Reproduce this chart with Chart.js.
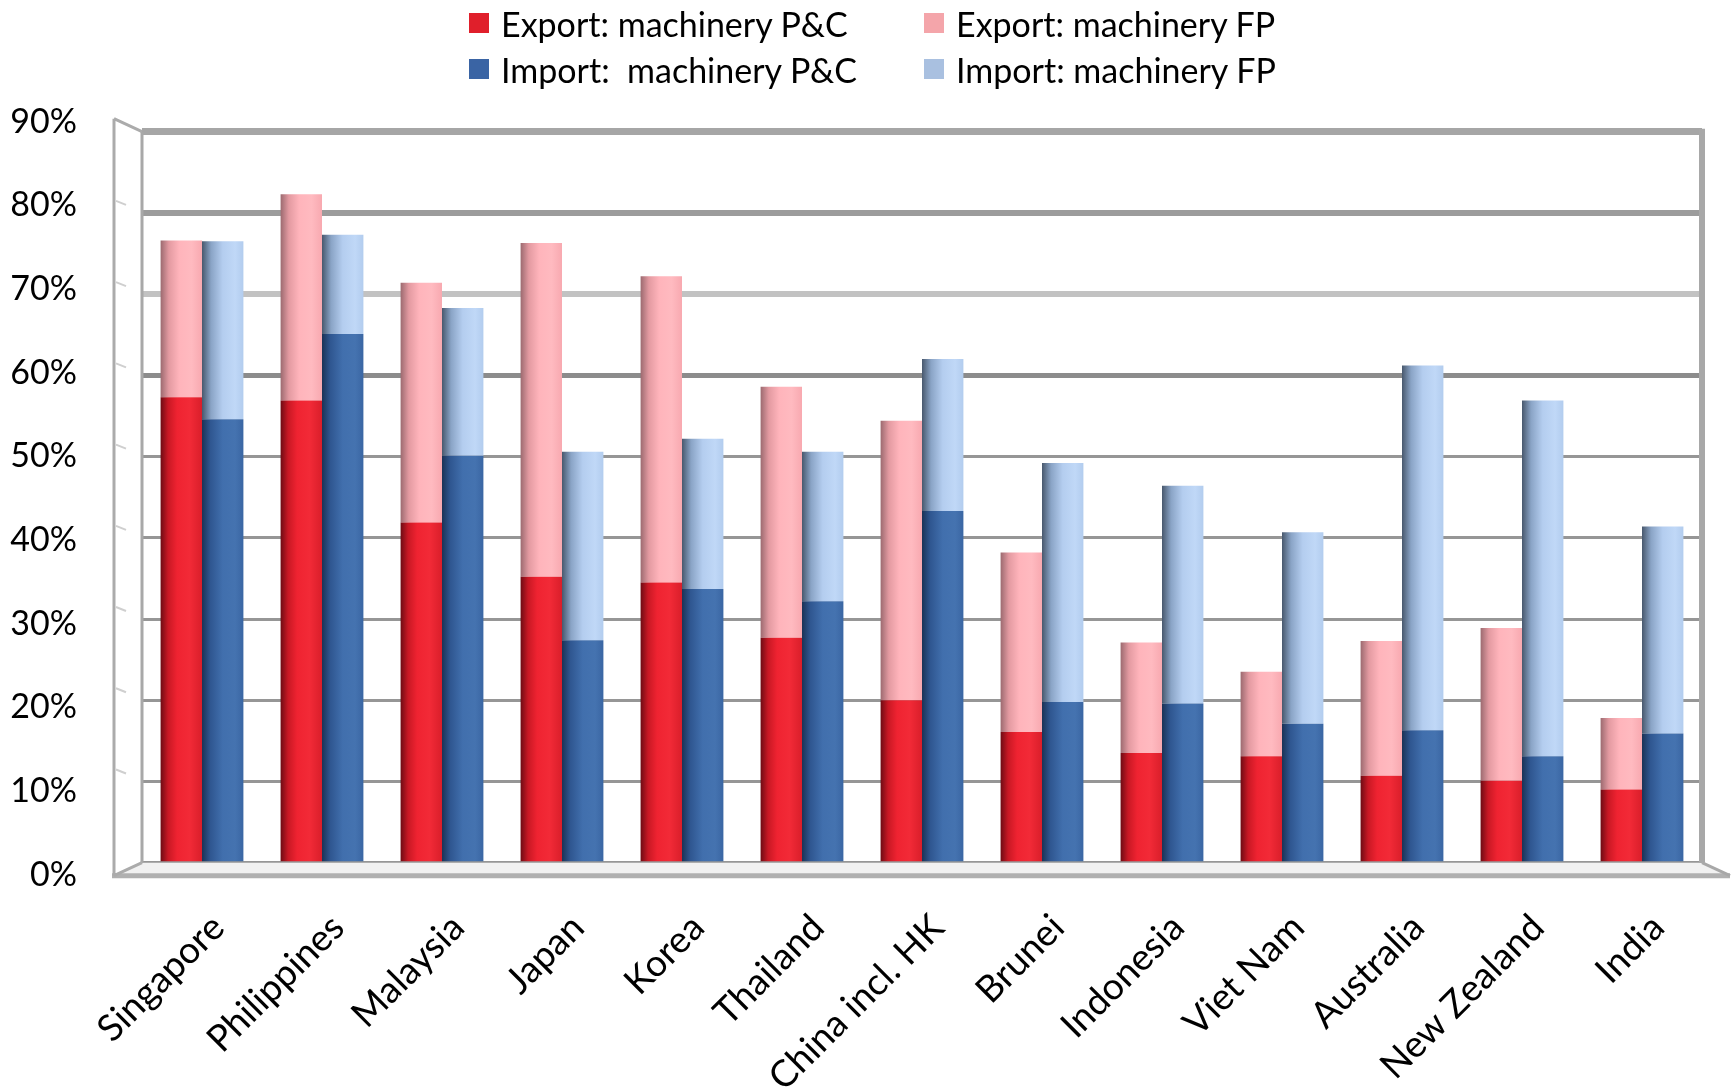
<!DOCTYPE html>
<html>
<head>
<meta charset="utf-8">
<title>Machinery trade shares</title>
<script src="https://cdn.jsdelivr.net/npm/chart.js@4.4.1/dist/chart.umd.min.js"></script>
<style>
  html, body { margin: 0; padding: 0; background: #fff; }
  #wrap { position: relative; width: 1732px; height: 1088px; overflow: hidden; }
  #chart-canvas { position: absolute; left: 0; top: 0; }
  .lg-item { position: absolute; height: 40px; display: flex; align-items: center;
             font-family: Lato, "Open Sans", sans-serif; font-size: 34px; color: #000; white-space: pre; }
  .lg-box { width: 20px; height: 20px; margin-right: 12px; flex: none; }
</style>
</head>
<body>
<div id="wrap">
  <canvas id="chart-canvas" width="1732" height="1088"></canvas>
  <div id="legend"></div>
</div>
<script>
const countries = ['Singapore', 'Philippines', 'Malaysia', 'Japan', 'Korea', 'Thailand', 'China incl. HK',
                   'Brunei', 'Indonesia', 'Viet Nam', 'Australia', 'New Zealand', 'India'];

// shares in %, parts & components (P&C) and final products (FP)
const exportPC = [57.3, 56.9, 41.9, 35.2, 34.5, 27.7, 20.0, 16.1, 13.5, 13.1, 10.7, 10.1, 9.0];
const exportFP = [19.3, 25.4, 29.5, 41.1, 37.7, 30.9, 34.4, 22.1, 13.6, 10.4, 16.6, 18.8, 8.8];
const importPC = [54.6, 65.1, 50.1, 27.4, 33.7, 32.2, 43.3, 19.8, 19.6, 17.1, 16.3, 13.1, 15.9];
const importFP = [21.9, 12.2, 18.2, 23.2, 18.5, 18.4, 18.7, 29.4, 26.8, 23.6, 44.9, 43.8, 25.5];

const yTickValues = [0, 10, 20, 30, 40, 50, 60, 70, 80, 90];

const yMax = 90;
const CAT_PCT = 0.69;
const FONT = 'Lato, "Open Sans", sans-serif';

// plot box in canvas pixels
const PLOT_TOP = 131.7;
const X_AXIS_H = 225.3;
const PLOT_H = 1088 - PLOT_TOP - X_AXIS_H;

// the value labels sit on the front edge of the side wall, which is a bit
// taller than the back wall: 90% lifts ~10px, 0% drops ~12px
const LABEL_LIFT_TOP = 10;
const LABEL_DROP_BOTTOM = 12;
const labelRange = yMax * PLOT_H / (PLOT_H + LABEL_LIFT_TOP + LABEL_DROP_BOTTOM);
const labelMin = LABEL_DROP_BOTTOM * labelRange / PLOT_H;
const labelMax = labelMin + labelRange;

// left-to-right shading so each column reads like a cylinder
const shades = {
  red:   [[0, '#6e0c14'], [0.18, '#c81824'], [0.4, '#ef2331'], [0.7, '#f22a37'], [1, '#d91e2a']],
  pink:  [[0, '#9c6a70'], [0.2, '#e39aa1'], [0.45, '#ffb4bb'], [0.75, '#ffbac0'], [1, '#f8a9b0']],
  blue:  [[0, '#1b3356'], [0.2, '#2f5690'], [0.5, '#416fad'], [0.8, '#4573b0'], [1, '#3a66a3']],
  lblue: [[0, '#48586d'], [0.22, '#8aa4c6'], [0.5, '#b4cdef'], [0.8, '#c0d8f7'], [1, '#b2ccee']]
};

function cylinder(stops, side) {
  return (ctx) => {
    const chart = ctx.chart;
    const xs = chart.scales.x;
    if (!chart.chartArea || !xs || ctx.type !== 'data') return stops[2][1];
    const cx = xs.getPixelForValue(ctx.dataIndex);
    const half = (xs.width / countries.length) * CAT_PCT / 2;
    const x0 = side === 'left' ? cx - half : cx;
    const g = chart.ctx.createLinearGradient(x0, 0, x0 + half, 0);
    stops.forEach(([o, c]) => g.addColorStop(o, c));
    return g;
  };
}

const gridWidth = { 60: 5, 70: 6, 80: 6, 90: 7 };
const gridColor = { 60: '#8c8c8c', 70: '#c2c2c2', 80: '#9c9c9c', 90: '#a6a6a6' };

// side wall and floor around the plot area
const framePlugin = {
  id: 'frame',
  beforeDatasetsDraw(chart) {
    const { ctx, chartArea: a, scales } = chart;
    const dx = 28, dy = 13;
    ctx.save();
    ctx.lineCap = 'butt';
    // floor
    ctx.fillStyle = '#f1f1f1';
    ctx.beginPath();
    ctx.moveTo(a.left, a.bottom);
    ctx.lineTo(a.right, a.bottom);
    ctx.lineTo(a.right + dx, a.bottom + dy);
    ctx.lineTo(a.left - dx, a.bottom + dy);
    ctx.closePath();
    ctx.fill();
    ctx.strokeStyle = '#b0b0b0';
    ctx.lineWidth = 5;
    ctx.beginPath();
    ctx.moveTo(a.left - dx - 2, a.bottom + dy);
    ctx.lineTo(a.right + dx, a.bottom + dy);
    ctx.stroke();
    ctx.lineWidth = 3;
    ctx.strokeStyle = '#a8a8a8';
    ctx.beginPath();
    ctx.moveTo(a.right, a.bottom);
    ctx.lineTo(a.right + dx, a.bottom + dy);
    ctx.stroke();
    // back wall edges
    ctx.beginPath();
    ctx.moveTo(a.left, a.top);
    ctx.lineTo(a.left, a.bottom);
    ctx.stroke();
    ctx.lineWidth = 6;
    ctx.beginPath();
    ctx.moveTo(a.right, a.top - 3);
    ctx.lineTo(a.right, a.bottom);
    ctx.stroke();
    // side wall
    ctx.lineWidth = 3;
    ctx.strokeStyle = '#ababab';
    ctx.beginPath();
    ctx.moveTo(a.left - dx, a.top - dy);
    ctx.lineTo(a.left - dx, a.bottom + dy);
    ctx.moveTo(a.left - dx, a.top - dy);
    ctx.lineTo(a.left, a.top);
    ctx.moveTo(a.left - dx, a.bottom + dy);
    ctx.lineTo(a.left, a.bottom);
    ctx.stroke();
    ctx.strokeStyle = '#cfcfcf';
    ctx.lineWidth = 2;
    yTickValues.slice(1, -1).forEach(v => {
      const y = scales.y.getPixelForValue(v);
      ctx.beginPath();
      ctx.moveTo(a.left - dx + 2, y - dy + 1);
      ctx.lineTo(a.left - dx + 12, y - dy + 5);
      ctx.stroke();
    });
    ctx.restore();
  }
};

const datasets = [
  { label: 'Export: machinery P&C', data: exportPC, stack: 'exp', backgroundColor: cylinder(shades.red, 'left'), legendColor: '#e01f2b' },
  { label: 'Export: machinery FP', data: exportFP, stack: 'exp', backgroundColor: cylinder(shades.pink, 'left'), legendColor: '#f4a5aa' },
  { label: 'Import:  machinery P&C', data: importPC, stack: 'imp', backgroundColor: cylinder(shades.blue, 'right'), legendColor: '#3a64a4' },
  { label: 'Import: machinery FP', data: importFP, stack: 'imp', backgroundColor: cylinder(shades.lblue, 'right'), legendColor: '#a9c0e0' }
];

const chart = new Chart(document.getElementById('chart-canvas').getContext('2d'), {
  type: 'bar',
  data: {
    labels: countries,
    datasets: datasets.map(d => ({
      label: d.label, data: d.data, stack: d.stack, backgroundColor: d.backgroundColor,
      borderWidth: 0, barPercentage: 1, categoryPercentage: CAT_PCT
    }))
  },
  options: {
    responsive: false,
    animation: false,
    events: [],
    devicePixelRatio: 1,
    layout: { padding: { top: PLOT_TOP, right: 30, left: 0, bottom: 0 } },
    plugins: { legend: { display: false }, tooltip: { enabled: false } },
    scales: {
      x: {
        stacked: true,
        grid: { display: false },
        border: { display: false },
        ticks: {
          autoSkip: false, minRotation: 45, maxRotation: 45, padding: 35, labelOffset: 16,
          color: '#000', font: { family: FONT, size: 37 }
        },
        afterFit(scale) { scale.height = X_AXIS_H; }
      },
      y: {
        stacked: true,
        min: 0, max: yMax,
        grid: {
          drawTicks: false,
          lineWidth: c => gridWidth[c.tick && c.tick.value] || 3,
          color: c => gridColor[c.tick && c.tick.value] || '#969696'
        },
        border: { display: false },
        ticks: { display: false, stepSize: 10 },
        afterFit(scale) { scale.width = 0; }
      },
      yLabels: {
        type: 'linear',
        position: 'left',
        min: labelMin, max: labelMax,
        grid: { display: false },
        border: { display: false },
        ticks: {
          padding: 57, color: '#000',
          font: { family: FONT, size: 34 },
          callback: v => v + '%'
        },
        afterBuildTicks(scale) { scale.ticks = yTickValues.map(v => ({ value: v })); },
        afterFit(scale) { scale.width = 142; }
      }
    }
  },
  plugins: [framePlugin]
});

// two-column legend above the plot
const legendSlots = [[469, 3], [924, 3], [469, 49], [924, 49]];
const legendEl = document.getElementById('legend');
datasets.forEach((d, i) => {
  const item = document.createElement('div');
  item.className = 'lg-item';
  item.style.left = legendSlots[i][0] + 'px';
  item.style.top = legendSlots[i][1] + 'px';
  const box = document.createElement('span');
  box.className = 'lg-box';
  box.style.background = d.legendColor;
  item.appendChild(box);
  item.appendChild(document.createTextNode(d.label));
  legendEl.appendChild(item);
});
</script>
</body>
</html>
